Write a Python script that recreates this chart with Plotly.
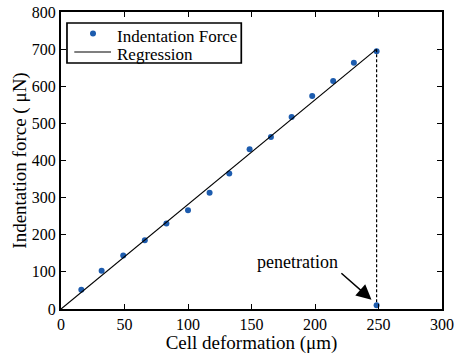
import plotly.graph_objects as go

deformation = [16, 32, 49, 66, 83, 100, 117, 132.5, 148.5, 165.3, 181.6, 197.8, 214.3, 230.6, 248.5]
force = [52, 103, 144, 185, 230, 266, 313, 365, 430, 463, 517, 574, 614, 663, 694]
reg_x = [0, 248.5]
reg_y = [0, 700]
pen_x = [248.5]
pen_y = [10]
drop_x = [248.5, 248.5]
drop_y = [700, 0]
xticks = [0, 50, 100, 150, 200, 250, 300]
yticks = [0, 100, 200, 300, 400, 500, 600, 700, 800]
legend_labels = ["Indentation Force", "Regression"]

FONT = "Times New Roman, Liberation Serif, DejaVu Serif, serif"
BLUE = "#1d5cae"

fig = go.Figure()
fig.add_trace(go.Scatter(x=deformation, y=force, mode="markers", name=legend_labels[0],
                         marker=dict(color=BLUE, size=6), showlegend=False))
fig.add_trace(go.Scatter(x=reg_x, y=reg_y, mode="lines", name=legend_labels[1],
                         line=dict(color="black", width=1.2), showlegend=False))
fig.add_trace(go.Scatter(x=drop_x, y=drop_y, mode="lines", showlegend=False,
                         line=dict(color="black", width=1.2, dash="3px,2px")))
fig.add_trace(go.Scatter(x=pen_x, y=pen_y, mode="markers", showlegend=False,
                         marker=dict(color=BLUE, size=6)))

axis_common = dict(showline=True, linecolor="black", linewidth=2, mirror="ticks",
                   ticks="inside", ticklen=5, tickwidth=1.2, tickcolor="black",
                   showgrid=False, zeroline=False, automargin=False,
                   tickfont=dict(family=FONT, size=16, color="black"))

fig.update_xaxes(range=[0, 300], tickvals=xticks,
                 title=dict(text="Cell deformation (μm)", font=dict(family=FONT, size=19, color="black"), standoff=0),
                 **axis_common)
fig.update_yaxes(range=[0, 800], tickvals=yticks,
                 title=dict(text="Indentation force ( μN)", font=dict(family=FONT, size=19, color="black"), standoff=0),
                 **axis_common)

fig.add_annotation(x=244.5, y=25, ax=219.6, ay=100, axref="x", ayref="y",
                   xref="x", yref="y", text="", showarrow=True,
                   arrowhead=2, arrowsize=2, arrowwidth=1.5, arrowcolor="black")
fig.add_annotation(x=186, y=126, xref="x", yref="y", text="penetration", showarrow=False,
                   font=dict(family=FONT, size=18, color="black"))

# custom legend (box, symbols, labels) in paper coordinates
fig.add_shape(type="rect", xref="paper", yref="paper", x0=0.0157, x1=0.4732, y0=0.8283, y1=0.963,
              line=dict(color="black", width=1.7), fillcolor="white", layer="above")
fig.add_shape(type="circle", xref="paper", yref="paper", x0=0.084 - 0.0079, x1=0.084 + 0.0079,
              y0=0.928 - 0.0101, y1=0.928 + 0.0101, line=dict(color=BLUE, width=0), fillcolor=BLUE,
              layer="above")
fig.add_shape(type="line", xref="paper", yref="paper", x0=0.0349, x1=0.1312, y0=0.8653, y1=0.8653,
              line=dict(color="black", width=1.2), layer="above")
fig.add_annotation(x=0.1425, y=0.9168, xref="paper", yref="paper", xanchor="left", yanchor="middle",
                   text=legend_labels[0], showarrow=False, font=dict(family=FONT, size=17, color="black"))
fig.add_annotation(x=0.1425, y=0.8562, xref="paper", yref="paper", xanchor="left", yanchor="middle",
                   text=legend_labels[1], showarrow=False, font=dict(family=FONT, size=17, color="black"))

fig.update_layout(
    width=455, height=354,
    margin=dict(l=61, r=13, t=12, b=45),
    paper_bgcolor="white", plot_bgcolor="white",
    font=dict(family=FONT, size=16, color="black"),
    showlegend=False,
)

fig.write_html("out.html", config={"displayModeBar": False},
               post_script="document.body.style.margin='0px';")
